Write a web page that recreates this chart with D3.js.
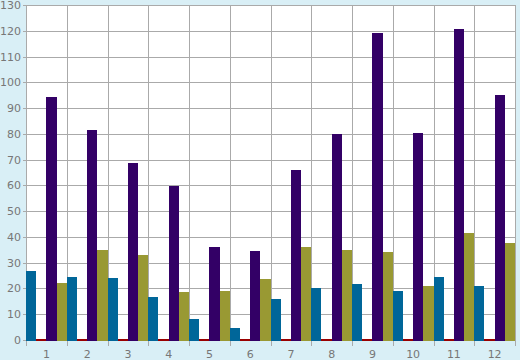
<!DOCTYPE html>
<html>
<head>
<meta charset="utf-8">
<script src="https://cdn.jsdelivr.net/npm/d3@7"></script>
<style>
  html, body { margin: 0; padding: 0; background: #d9eff6; }
  svg { display: block; }
  text { font-family: "DejaVu Sans", sans-serif; font-size: 11px; fill: #777; }
</style>
</head>
<body>
<div id="chart"></div>
<script>
// categories and series
let categories = ["1","2","3","4","5","6","7","8","9","10","11","12"];
let seriesNames = ["blue", "red", "purple", "olive"];
let blueValues   = [27, 24.8, 24.4, 16.8, 8.2, 4.8, 16, 20.2, 22.1, 19.4, 24.8, 21];
let redValues    = [0.4, 0.4, 0.4, 0.4, 0.4, 0.4, 0.4, 0.4, 0.4, 0.4, 0.4, 0.4];
let purpleValues = [94.3, 81.5, 68.7, 59.8, 36.1, 34.9, 66, 80, 119.5, 80.7, 120.7, 95.1];
let oliveValues  = [22.5, 35.3, 33, 19, 19.4, 24, 36.1, 35.3, 34.5, 21, 41.9, 38];
let yTicks = [0, 10, 20, 30, 40, 50, 60, 70, 80, 90, 100, 110, 120, 130];

let colors = ["#006699", "#990000", "#330066", "#999933"];

let w = 520, h = 360;
let margin = {top: 5, right: 5, bottom: 20, left: 26},
    width = w - margin.left - margin.right,
    height = h - margin.top - margin.bottom;

let svg = d3.select("#chart").append("svg")
    .attr("width", w)
    .attr("height", h);

let g = svg.append("g")
    .attr("transform", "translate(" + margin.left + "," + margin.top + ")");

let x = d3.scaleBand().domain(categories).range([0, width]).padding(0);
let xs = d3.scaleBand().domain(seriesNames).range([0, x.bandwidth()]).padding(0);
let y = d3.scaleLinear().domain([0, 130]).range([height, 0]);

// plot background
g.append("rect")
    .attr("width", width)
    .attr("height", height)
    .attr("fill", "#fff");

// horizontal grid with small ticks on the left
g.selectAll(".hgrid").data(yTicks).enter().append("line")
    .attr("x1", -3).attr("x2", width)
    .attr("y1", d => Math.round(y(d)) + 0.5)
    .attr("y2", d => Math.round(y(d)) + 0.5)
    .attr("stroke", "#aaa");

// vertical grid at category boundaries (plus ticks below)
let bounds = categories.map(c => x(c)).concat([width]);
g.selectAll(".vgrid").data(bounds).enter().append("line")
    .attr("x1", d => Math.round(d) + 0.5)
    .attr("x2", d => Math.round(d) + 0.5)
    .attr("y1", 0)
    .attr("y2", height + 6)
    .attr("stroke", "#aaa");

// bars, drawn over the grid and touching the zero line
let data = [blueValues, redValues, purpleValues, oliveValues];
data.forEach(function(vals, si) {
    g.selectAll(".bar-" + si).data(vals).enter().append("rect")
        .attr("x", (d, i) => x(categories[i]) + xs(seriesNames[si]))
        .attr("width", xs.bandwidth())
        .attr("y", d => y(d) + 0.5)
        .attr("height", d => height - y(d))
        .attr("fill", colors[si])
        .attr("shape-rendering", "crispEdges");
});

// y labels
let yAxis = d3.axisLeft(y).tickValues(yTicks).tickSize(0).tickPadding(5);
let ya = g.append("g").call(yAxis);
ya.select(".domain").remove();
ya.selectAll("text").style("font-size", "11px").attr("fill", "#777");

// x labels
let xAxis = d3.axisBottom(x).tickSize(0).tickPadding(10);
let xa = g.append("g").attr("transform", "translate(0," + height + ")").call(xAxis);
xa.select(".domain").remove();
xa.selectAll("text").style("font-size", "11px").attr("fill", "#777");
</script>
</body>
</html>
